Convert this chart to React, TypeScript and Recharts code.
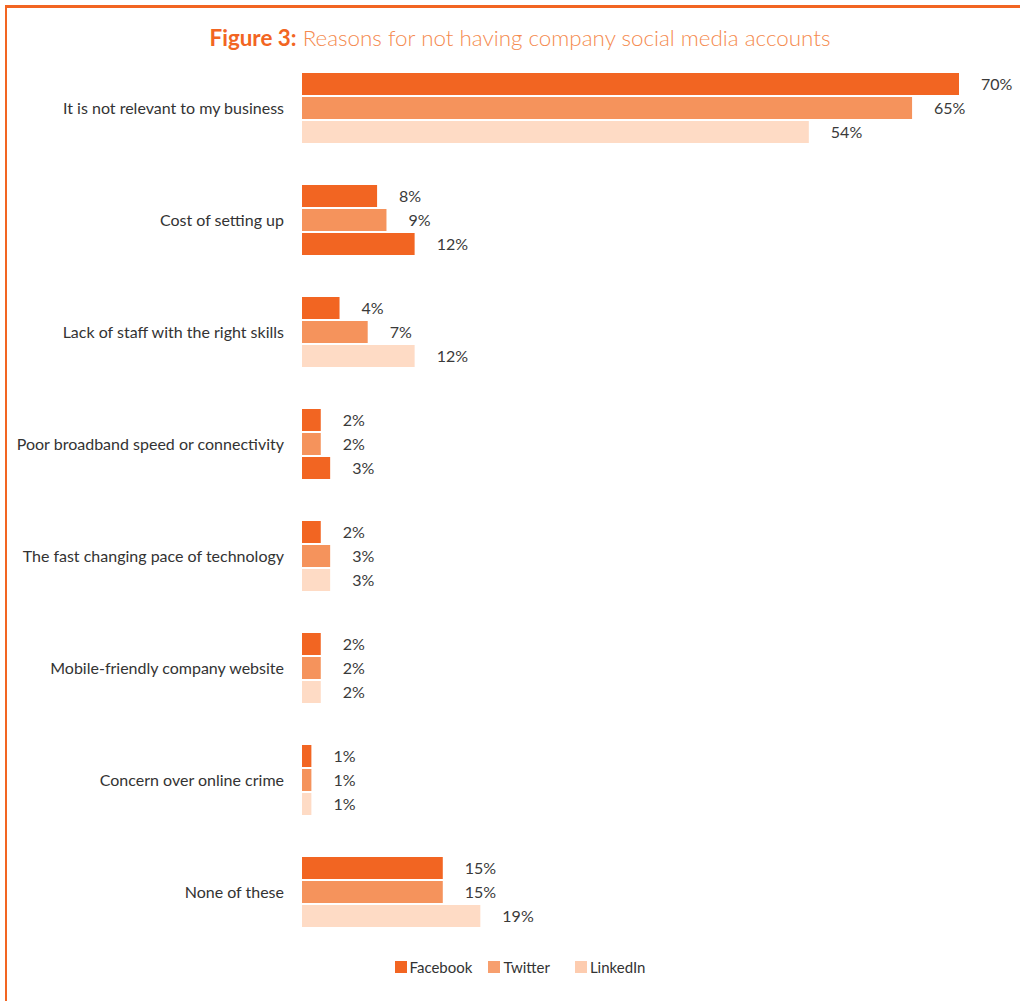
import { BarChart, Bar, XAxis, YAxis, LabelList, Cell } from 'recharts';

const categories = [
  'It is not relevant to my business',
  'Cost of setting up',
  'Lack of staff with the right skills',
  'Poor broadband speed or connectivity',
  'The fast changing pace of technology',
  'Mobile-friendly company website',
  'Concern over online crime',
  'None of these',
];

const facebook = [70, 8, 4, 2, 2, 2, 1, 15];
const twitter = [65, 9, 7, 2, 3, 2, 1, 15];
const linkedin = [54, 12, 12, 3, 3, 2, 1, 19];

// in the original these two LinkedIn bars are drawn in the Facebook colour
const linkedinDrawnDark = ['Cost of setting up', 'Poor broadband speed or connectivity'];

const series = [
  { key: 'Facebook', values: facebook },
  { key: 'Twitter', values: twitter },
  { key: 'LinkedIn', values: linkedin },
];

const data = categories.map((name, i) => ({
  name,
  Facebook: facebook[i],
  Twitter: twitter[i],
  LinkedIn: linkedin[i],
}));

const COLORS: Record<string, string> = {
  Facebook: '#F26522',
  Twitter: '#F5935C',
  LinkedIn: '#FEDBC5',
};

const LEGEND_COLORS: Record<string, string> = {
  Facebook: '#F26522',
  Twitter: '#F79F6E',
  LinkedIn: '#FDCCAF',
};

const LEGEND_GAP: Record<string, number> = { Facebook: 16, Twitter: 25, LinkedIn: 0 };

const FONT = 'Lato, "Open Sans", sans-serif';

export default function App() {
  return (
    <div
      style={{
        position: 'absolute',
        left: 0,
        top: 0,
        width: 1020,
        height: 1001,
        background: '#fff',
        overflow: 'hidden',
        fontFamily: FONT,
      }}
    >
      <div
        style={{
          position: 'absolute',
          left: 5,
          top: 5,
          width: 1015,
          height: 996,
          boxSizing: 'border-box',
          borderTop: '3px solid #F26522',
          borderLeft: '2px solid #F26522',
        }}
      />
      <div
        style={{
          position: 'absolute',
          top: 24,
          left: 0,
          width: 1040,
          textAlign: 'center',
          fontSize: 22.4,
          color: '#F58A4E',
          fontWeight: 300,
        }}
      >
        <span style={{ color: '#F26522', fontWeight: 700 }}>Figure 3:</span> Reasons for not having company social media accounts
      </div>

      <div style={{ position: 'absolute', left: 0, top: 0 }}>
        <BarChart
          width={1020}
          height={1001}
          data={data}
          layout="vertical"
          margin={{ top: 52, right: 61, bottom: 53, left: 0 }}
          barSize={22}
          barGap={2}
        >
          <XAxis type="number" domain={[0, 70]} hide />
          <YAxis
            type="category"
            dataKey="name"
            width={302}
            axisLine={false}
            tickLine={false}
            tickSize={0}
            tickMargin={18}
            tick={{ fill: '#333', fontSize: 16, fontFamily: FONT }}
          />
          {series.map((s) => (
            <Bar key={s.key} dataKey={s.key} fill={COLORS[s.key]} isAnimationActive={false}>
              {s.key === 'LinkedIn' &&
                categories.map((c) => (
                  <Cell key={c} fill={linkedinDrawnDark.includes(c) ? COLORS.Facebook : COLORS.LinkedIn} />
                ))}
              <LabelList
                dataKey={s.key}
                position="right"
                offset={22}
                formatter={(v: number) => `${v}%`}
                style={{ fill: '#3a3a3a', fontSize: 16, fontFamily: FONT }}
              />
            </Bar>
          ))}
        </BarChart>
      </div>

      <div
        style={{
          position: 'absolute',
          top: 958,
          left: 0,
          width: 1040,
          display: 'flex',
          justifyContent: 'center',
          fontSize: 15,
          color: '#333',
        }}
      >
        {series.map((s) => (
          <div key={s.key} style={{ display: 'flex', alignItems: 'center', marginRight: LEGEND_GAP[s.key] }}>
            <span style={{ display: 'inline-block', width: 12, height: 12, background: LEGEND_COLORS[s.key], marginRight: 3 }} />
            <span>{s.key}</span>
          </div>
        ))}
      </div>
    </div>
  );
}
